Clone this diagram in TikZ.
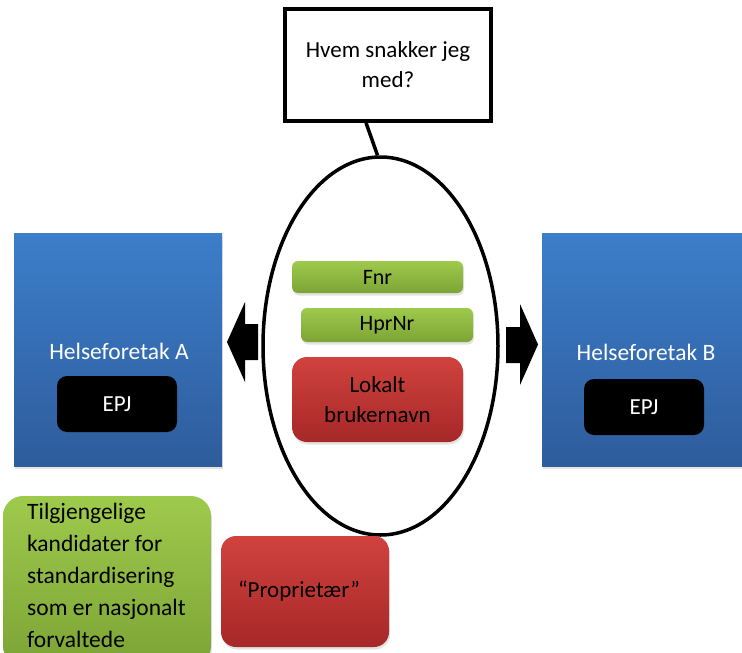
\documentclass[tikz,border=0pt]{standalone}
\usepackage{fontspec}
\setmainfont{Carlito}
\usetikzlibrary{shapes.geometric,shadows}

\definecolor{blueTop}{RGB}{60,126,202}
\definecolor{blueBot}{RGB}{46,92,156}
\definecolor{greenTop}{RGB}{158,202,76}
\definecolor{greenBot}{RGB}{124,164,54}
\definecolor{redTop}{RGB}{208,66,62}
\definecolor{redBot}{RGB}{166,40,40}

\tikzset{
  softshadow/.style={drop shadow={opacity=0.22,shadow xshift=1pt,shadow yshift=-2.5pt}},
  orgbox/.style={softshadow,top color=blueTop,bottom color=blueBot,draw=none,inner sep=0pt},
  epjbox/.style={fill=black,rounded corners=10pt,inner sep=0pt,
    minimum width=120pt,minimum height=56pt,text=white,font=\fontsize{23}{27}\selectfont},
  greenbar/.style={softshadow,top color=greenTop,bottom color=greenBot,rounded corners=6pt,
    inner sep=0pt,font=\fontsize{22}{26}\selectfont},
  redbox/.style={softshadow,top color=redTop,bottom color=redBot,rounded corners=15pt,
    inner sep=0pt,align=center,font=\fontsize{23}{30}\selectfont},
  greenbox/.style={softshadow,top color=greenTop,bottom color=greenBot,rounded corners=20pt,inner sep=0pt},
  orglabel/.style={text=white,font=\fontsize{23.5}{27}\selectfont,inner sep=0pt},
  blockarrow/.style={fill=black,draw=none}
}

\begin{document}
\begin{tikzpicture}[x=1pt,y=-1pt]
\useasboundingbox (0,0) rectangle (742,653);
\clip (0,0) rectangle (742,653);

% question box at the top
\node[draw=black,line width=3.5pt,minimum width=206pt,minimum height=112pt,
      align=center,font=\fontsize{23}{30}\selectfont,inner sep=0pt]
      (question) at (388,65) {Hvem snakker jeg\\med?};

% the two health trusts
\node[orgbox,minimum width=208pt,minimum height=233pt] (hfA) at (118,349.5) {};
\node[orglabel] (hfAlabel) at (119,351) {Helseforetak A};
\node[epjbox] (epjA) at (117,404) {EPJ};

\node[orgbox,minimum width=210pt,minimum height=233pt] (hfB) at (647,349.5) {};
\node[orglabel] (hfBlabel) at (646,352) {Helseforetak B};
\node[epjbox] (epjB) at (644,407) {EPJ};

% identity ellipse
\node[ellipse,draw=black,line width=3.5pt,minimum width=235pt,minimum height=378pt,inner sep=0pt]
      (ident) at (380.5,346) {};
\draw[line width=3.5pt] ([xshift=-22pt]question.south) -- ([xshift=-3pt]ident.north);

% identifiers inside the ellipse
\node[greenbar,minimum width=171pt,minimum height=32pt] (fnr) at (377.5,277) {Fnr};
\node[greenbar,minimum width=172pt,minimum height=34pt] (hpr) at (387,325) {HprNr};
\node[redbox,minimum width=171pt,minimum height=85pt] (lokalt) at (377.5,399.5) {Lokalt\\brukernavn};

% block arrows pointing out to each trust
\fill[blockarrow] (258,324) -- (245,324) -- (245,302) -- (227,342) -- (245,382) -- (245,360) -- (258,360) -- cycle;
\fill[blockarrow] (506,327) -- (520,327) -- (520,304) -- (538,344.5) -- (520,385) -- (520,363) -- (506,363) -- cycle;

% legend boxes
\node[greenbox,minimum width=208pt,minimum height=170pt] (legendGreen) at (107,581) {};
\node[anchor=base west,align=left,inner sep=0pt,font=\fontsize{23.5}{32}\selectfont]
      (legendGreenText) at (27,647) {Tilgjengelige\\kandidater for\\standardisering\\som er nasjonalt\\forvaltede};
\node[redbox,minimum width=168pt,minimum height=111pt] (legendRed) at (305,591.5) {\hspace*{-12pt}“Proprietær”};
\end{tikzpicture}
\end{document}
